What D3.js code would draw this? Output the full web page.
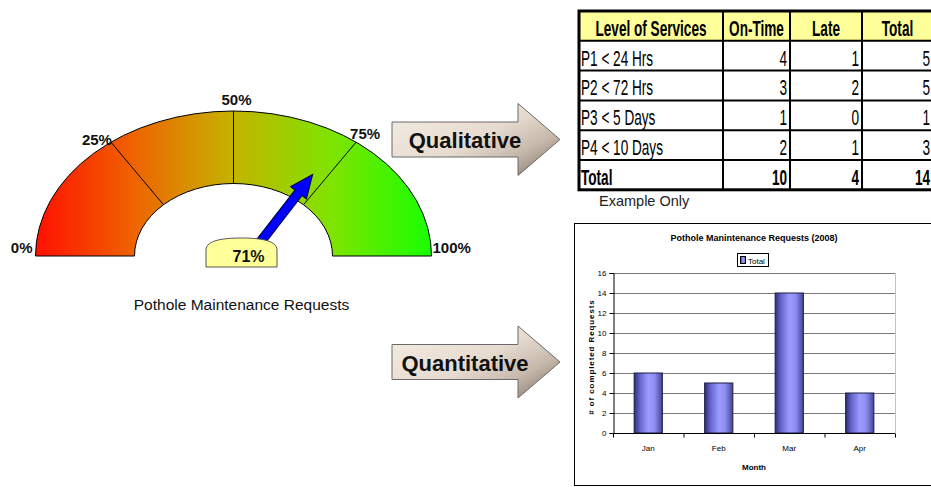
<!DOCTYPE html>
<html>
<head>
<meta charset="utf-8">
<script src="https://cdn.jsdelivr.net/npm/d3@7"></script>
<style>
  html, body { margin: 0; padding: 0; background: #fff; }
  svg { display: block; font-family: Arial, "Liberation Sans", sans-serif; }
</style>
</head>
<body>
<svg id="chart" width="931" height="487"></svg>
<script>
// gauge
const gaugeTicks = [0, 25, 50, 75, 100]
const gaugeValue = 71
const gaugeCaption = 'Pothole Maintenance Requests'

// service level table
const tableHeader = ['Level of Services', 'On-Time', 'Late', 'Total']
const levels = ['P1 < 24 Hrs', 'P2 < 72 Hrs', 'P3 < 5 Days', 'P4 < 10 Days']
const onTime = [4, 3, 1, 2]
const late = [1, 2, 0, 1]
const tableNote = 'Example Only'

// bar chart
const months = ['Jan', 'Feb', 'Mar', 'Apr']
const monthTotals = [6, 5, 14, 4]
const yTicks = [0, 2, 4, 6, 8, 10, 12, 14, 16]
const barTitle = 'Pothole Manintenance Requests (2008)'
const barSeries = 'Total'
const yTitle = '# of completed Requests'
const xTitle = 'Month'

const arrowLabels = ['Qualitative', 'Quantitative']

const svg = d3.select('#chart')
const defs = svg.append('defs')

drawGauge()
drawArrows()
drawTable()
drawBarChart()

function drawGauge() {
  const cx = 233.5, cy = 256, rOuter = 198, rInner = 99, squash = 145 / 198
  const angle = d3.scaleLinear().domain([0, 100]).range([Math.PI, 0])
  // point on the squashed ring
  const pt = (a, r) => [cx + r * Math.cos(a), cy - r * squash * Math.sin(a)]
  // outer end of dividers leans a bit outwards, as in the picture
  const outerAngle = (a) => Math.PI / 2 + (a - Math.PI / 2) * 0.85

  const grad = defs.append('linearGradient')
    .attr('id', 'gaugeGrad')
    .attr('gradientUnits', 'userSpaceOnUse')
    .attr('x1', -rOuter).attr('x2', rOuter).attr('y1', 0).attr('y2', 0)
  grad.selectAll('stop')
    .data([['0', '#ff1000'], ['0.25', '#ee6400'], ['0.5', '#c4b400'], ['0.75', '#7ee400'], ['1', '#18ff00']])
    .enter().append('stop')
    .attr('offset', d => d[0])
    .attr('stop-color', d => d[1])

  const arc = d3.arc()
    .innerRadius(rInner)
    .outerRadius(rOuter)
    .startAngle(-Math.PI / 2)
    .endAngle(Math.PI / 2)

  svg.append('g')
    .attr('transform', `translate(${cx},${cy}) scale(1,${squash})`)
    .append('path')
    .attr('d', arc())
    .attr('fill', 'url(#gaugeGrad)')
    .attr('stroke', '#000')
    .attr('stroke-width', 1)
    .attr('vector-effect', 'non-scaling-stroke')

  const inner = gaugeTicks.slice(1, -1)
  svg.selectAll('line.divider')
    .data(inner)
    .enter().append('line')
    .attr('class', 'divider')
    .attr('x1', d => pt(angle(d), rInner)[0])
    .attr('y1', d => pt(angle(d), rInner)[1])
    .attr('x2', d => pt(outerAngle(angle(d)), rOuter)[0])
    .attr('y2', d => pt(outerAngle(angle(d)), rOuter)[1])
    .attr('stroke', '#000')
    .attr('stroke-width', 1)

  svg.selectAll('text.gtick')
    .data(gaugeTicks)
    .enter().append('text')
    .attr('class', 'gtick')
    .attr('font-size', 15)
    .attr('font-weight', 'bold')
    .attr('fill', '#111')
    .each(function (d) {
      const a = (d === 0 || d === 100) ? angle(d) : outerAngle(angle(d))
      const [x, y] = pt(a, rOuter)
      const t = d3.select(this)
      if (d === 0) t.attr('x', x - 3).attr('y', y - 3).attr('text-anchor', 'end')
      else if (d === 100) t.attr('x', x + 1).attr('y', y - 3).attr('text-anchor', 'start')
      else if (d === 50) t.attr('x', x + 3).attr('y', y - 6).attr('text-anchor', 'middle')
      else if (d < 50) t.attr('x', x + 1).attr('y', y + 3).attr('text-anchor', 'end')
      else t.attr('x', x - 6).attr('y', y - 3).attr('text-anchor', 'start')
    })
    .text(d => d + '%')

  // needle
  const pivot = [cx + 16, cy]
  const a = angle(gaugeValue)
  const needle = [[8, -4.5], [80, -4.5], [80, -10], [103, 0], [80, 10], [80, 4.5], [8, 4.5]]
  svg.append('path')
    .attr('d', d3.line()(needle) + 'Z')
    .attr('transform', `translate(${pivot[0]},${pivot[1]}) rotate(${-a * 180 / Math.PI})`)
    .attr('fill', '#0000ff')
    .attr('stroke', '#00003a')
    .attr('stroke-width', 1)

  // value badge
  const bx0 = cx - 27.5, bx1 = cx + 43.5, by0 = 238, by1 = 267
  const p = d3.path()
  p.moveTo(bx0, by1)
  p.lineTo(bx0, by0 + 12)
  p.bezierCurveTo(bx0, by0 + 2, bx0 + 18, by0, (bx0 + bx1) / 2, by0)
  p.bezierCurveTo(bx1 - 18, by0, bx1, by0 + 2, bx1, by0 + 12)
  p.lineTo(bx1, by1)
  p.closePath()
  svg.append('path')
    .attr('d', p.toString())
    .attr('fill', '#ffff99')
    .attr('stroke', '#555')
    .attr('stroke-width', 1)
  svg.append('text')
    .attr('x', (bx0 + bx1) / 2 + 7)
    .attr('y', by1 - 5)
    .attr('text-anchor', 'middle')
    .attr('font-size', 16)
    .attr('font-weight', 'bold')
    .attr('fill', '#111')
    .text(gaugeValue + '%')

  svg.append('text')
    .attr('x', cx + 8)
    .attr('y', 310)
    .attr('text-anchor', 'middle')
    .attr('font-size', 15.5)
    .attr('fill', '#111')
    .text(gaugeCaption)
}

function drawArrows() {
  const grad = defs.append('linearGradient')
    .attr('id', 'arrowGrad')
    .attr('x1', 0).attr('y1', 0.1).attr('x2', 1).attr('y2', 0.9)
  grad.selectAll('stop')
    .data([['0', '#f3ebe3'], ['0.5', '#e6dbd0'], ['0.75', '#c7b9ac'], ['1', '#85776b']])
    .enter().append('stop')
    .attr('offset', d => d[0])
    .attr('stop-color', d => d[1])

  const left = 392, headBase = 518, tip = 560, bodyHalf = 17.5, headHalf = 36
  const mids = d3.scaleOrdinal().domain(arrowLabels).range([139.5, 362])

  arrowLabels.forEach(label => {
    const m = mids(label)
    const shape = [
      [left, m - bodyHalf], [headBase, m - bodyHalf], [headBase, m - headHalf],
      [tip, m], [headBase, m + headHalf], [headBase, m + bodyHalf], [left, m + bodyHalf]
    ]
    svg.append('path')
      .attr('d', d3.line()(shape) + 'Z')
      .attr('fill', 'url(#arrowGrad)')
      .attr('stroke', '#6a6a6a')
      .attr('stroke-width', 1)
    svg.append('text')
      .attr('x', 465)
      .attr('y', m + 8.5)
      .attr('text-anchor', 'middle')
      .attr('font-size', 22)
      .attr('font-weight', 'bold')
      .attr('fill', '#111')
      .text(label)
  })
}

function drawTable() {
  const colX = [579, 723, 790, 862, 933]
  const y0 = 11, rowH = 29.8
  const rows = levels.map((l, i) => [l, onTime[i], late[i], onTime[i] + late[i]])
  rows.push(['Total', d3.sum(onTime), d3.sum(late), d3.sum(onTime) + d3.sum(late)])

  const t = svg.append('g')
  t.append('rect')
    .attr('x', colX[0]).attr('y', y0)
    .attr('width', colX[4] - colX[0]).attr('height', rowH)
    .attr('fill', '#ffff99')

  // no narrow face installed: squeeze Arial sideways and stretch it up a bit
  const cell = (txt, col, row, bold) => {
    const base = y0 + rowH * (row + 1) - 5
    let x, anchor
    if (row === 0) { x = (colX[col] + colX[col + 1]) / 2; anchor = 'middle' }
    else if (col === 0) { x = colX[0] + 2; anchor = 'start' }
    else { x = colX[col + 1] - 3; anchor = 'end' }
    t.append('text')
      .attr('transform', `translate(${x},${base}) scale(0.8,1.28)`)
      .attr('text-anchor', anchor)
      .attr('font-family', 'Arial, "Liberation Sans", sans-serif')
      .attr('font-size', 17)
      .attr('font-weight', bold ? 'bold' : 'normal')
      .attr('fill', '#000')
      .text(txt)
  }
  tableHeader.forEach((h, c) => cell(h, c, 0, true))
  rows.forEach((r, i) => r.forEach((v, c) => cell(v, c, i + 1, i === rows.length - 1)))

  const nRows = rows.length + 1
  t.selectAll('line.h')
    .data(d3.range(1, nRows))
    .enter().append('line')
    .attr('x1', colX[0]).attr('x2', colX[4])
    .attr('y1', d => y0 + d * rowH).attr('y2', d => y0 + d * rowH)
    .attr('stroke', '#000').attr('stroke-width', 2)
  t.selectAll('line.v')
    .data(colX.slice(1, -1))
    .enter().append('line')
    .attr('x1', d => d).attr('x2', d => d)
    .attr('y1', y0).attr('y2', y0 + nRows * rowH)
    .attr('stroke', '#000').attr('stroke-width', 2)
  t.append('rect')
    .attr('x', colX[0]).attr('y', y0)
    .attr('width', colX[4] - colX[0]).attr('height', nRows * rowH)
    .attr('fill', 'none')
    .attr('stroke', '#000').attr('stroke-width', 3)

  svg.append('text')
    .attr('x', 599)
    .attr('y', 206)
    .attr('font-size', 14.5)
    .attr('fill', '#222')
    .text(tableNote)
}

function drawBarChart() {
  const box = { x: 574.5, y: 223.5, w: 362, h: 262 }
  const plot = { left: 613, right: 895, top: 273, bottom: 433 }

  svg.append('rect')
    .attr('x', box.x).attr('y', box.y).attr('width', box.w).attr('height', box.h)
    .attr('fill', '#fff').attr('stroke', '#000').attr('stroke-width', 1)

  const x = d3.scaleBand().domain(months).range([plot.left, plot.right])
  const y = d3.scaleLinear().domain([0, 16]).range([plot.bottom, plot.top])

  const grad = defs.append('linearGradient')
    .attr('id', 'barGrad')
    .attr('x1', 0).attr('x2', 1).attr('y1', 0).attr('y2', 0)
  grad.selectAll('stop')
    .data([['0', '#2e2e78'], ['0.2', '#6262c8'], ['0.5', '#9c9cff'], ['0.72', '#8e8ef2'], ['1', '#43439a']])
    .enter().append('stop')
    .attr('offset', d => d[0])
    .attr('stop-color', d => d[1])

  // grid
  svg.selectAll('line.grid')
    .data(yTicks.slice(1))
    .enter().append('line')
    .attr('x1', plot.left).attr('x2', plot.right)
    .attr('y1', d => Math.round(y(d)) + 0.5).attr('y2', d => Math.round(y(d)) + 0.5)
    .attr('stroke', '#7a7a7a').attr('stroke-width', 1)
  svg.append('line')
    .attr('x1', plot.right + 0.5).attr('x2', plot.right + 0.5)
    .attr('y1', plot.top).attr('y2', plot.bottom)
    .attr('stroke', '#c4c4c4')

  const barW = x.bandwidth() * 0.4
  svg.selectAll('rect.bar')
    .data(months)
    .enter().append('rect')
    .attr('class', 'bar')
    .attr('x', d => x(d) + (x.bandwidth() - barW) / 2)
    .attr('y', (d, i) => y(monthTotals[i]))
    .attr('width', barW)
    .attr('height', (d, i) => y(0) - y(monthTotals[i]))
    .attr('fill', 'url(#barGrad)')
    .attr('stroke', '#1c1c44').attr('stroke-width', 1)

  // y axis
  const yAxis = svg.append('g')
    .attr('transform', `translate(${plot.left + 0.5},0)`)
    .call(d3.axisLeft(y).tickValues(yTicks).tickSize(4).tickPadding(3))
  yAxis.select('.domain').attr('stroke', '#000')
  yAxis.selectAll('text').attr('font-size', 8).attr('font-family', 'Arial, "Liberation Sans", sans-serif').attr('fill', '#000')

  // x axis with ticks on the category edges
  const xAxis = svg.append('g')
    .attr('transform', `translate(0,${plot.bottom + 0.5})`)
  xAxis.append('line')
    .attr('x1', plot.left).attr('x2', plot.right)
    .attr('stroke', '#000')
  xAxis.selectAll('line.tk')
    .data(months.map(m => x(m)).concat([plot.right]))
    .enter().append('line')
    .attr('x1', d => d + 0.5).attr('x2', d => d + 0.5)
    .attr('y1', 0).attr('y2', 4)
    .attr('stroke', '#000')
  xAxis.selectAll('text')
    .data(months)
    .enter().append('text')
    .attr('x', d => x(d) + x.bandwidth() / 2)
    .attr('y', 17)
    .attr('text-anchor', 'middle')
    .attr('font-size', 8)
    .text(d => d)

  svg.append('text')
    .attr('x', (plot.left + plot.right) / 2)
    .attr('y', 470)
    .attr('text-anchor', 'middle')
    .attr('font-size', 8)
    .attr('font-weight', 'bold')
    .text(xTitle)

  svg.append('text')
    .attr('transform', `translate(594,357) rotate(-90)`)
    .attr('text-anchor', 'middle')
    .attr('font-size', 8)
    .attr('font-weight', 'bold')
    .attr('letter-spacing', 0.9)
    .text(yTitle)

  svg.append('text')
    .attr('x', 754)
    .attr('y', 241)
    .attr('text-anchor', 'middle')
    .attr('font-size', 9)
    .attr('font-weight', 'bold')
    .text(barTitle)

  // legend
  svg.append('rect')
    .attr('x', 737.5).attr('y', 253.5).attr('width', 31).attr('height', 13)
    .attr('fill', '#fff').attr('stroke', '#000')
  svg.append('rect')
    .attr('x', 740.5).attr('y', 256.5).attr('width', 5).attr('height', 7)
    .attr('fill', 'url(#barGrad)').attr('stroke', '#000')
  svg.append('text')
    .attr('x', 748).attr('y', 263.5)
    .attr('font-size', 8)
    .text(barSeries)
}
</script>
</body>
</html>
